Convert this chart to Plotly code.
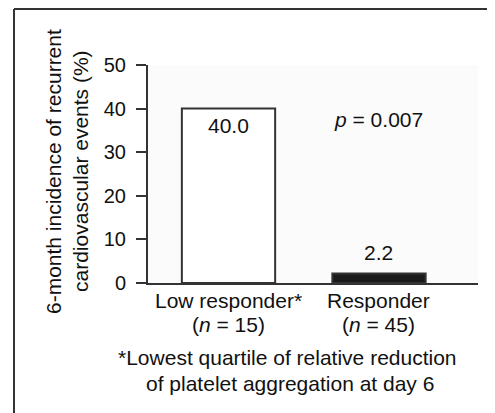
import plotly.graph_objects as go

categories = ["Low responder*", "Responder"]
n_labels = ["(<i>n</i> = 15)", "(<i>n</i> = 45)"]
values = [40.0, 2.2]
value_labels = ["40.0", "2.2"]
y_ticks = [0, 10, 20, 30, 40, 50]
p_text = "<i>p</i> = 0.007"
y_title = ["6-month incidence of recurrent", "cardiovascular events (%)"]
footnote = ["*Lowest quartile of relative reduction", "of platelet aggregation at day 6"]

FONT = "Liberation Sans, Arial, Helvetica, sans-serif"
DARK = "#333333"
TXT = "#111111"
FS = 21
xs = list(range(len(categories)))

# page body has an 8px margin; plot area in screen px: x 148..478, y 65..283
PX0, PW, PY0, PH = 148, 330, 283, 218


def px(x):
    return (x - PX0) / PW


def py(y):
    return (PY0 - y) / PH


fig = go.Figure()
fig.add_trace(go.Bar(
    x=xs, y=values, width=0.62,
    marker=dict(color=["#ffffff", "#1a1a1a"], line=dict(color=DARK, width=2)),
    hoverinfo="skip",
))

ann = []
ann.append(dict(x=0, y=36.2, xref="x", yref="y", text=value_labels[0], showarrow=False,
                font=dict(size=FS, color=TXT)))
ann.append(dict(x=1, y=6.9, xref="x", yref="y", text=value_labels[1], showarrow=False,
                font=dict(size=FS, color=TXT)))
ann.append(dict(x=1, y=37.4, xref="x", yref="y", text=p_text, showarrow=False,
                font=dict(size=FS, color=TXT)))
for i in xs:
    ann.append(dict(x=i, y=py(300), xref="x", yref="paper", text=categories[i], showarrow=False,
                    yanchor="middle", font=dict(size=FS, color=TXT)))
    ann.append(dict(x=i, y=py(324), xref="x", yref="paper", text=n_labels[i], showarrow=False,
                    yanchor="middle", font=dict(size=FS, color=TXT)))
ann.append(dict(x=px(287), y=py(357), xref="paper", yref="paper", text=footnote[0],
                showarrow=False, yanchor="middle", font=dict(size=FS, color=TXT)))
ann.append(dict(x=px(290), y=py(383), xref="paper", yref="paper", text=footnote[1],
                showarrow=False, yanchor="middle", font=dict(size=FS, color=TXT)))
ann.append(dict(x=px(53), y=py(171), xref="paper", yref="paper", text=y_title[0],
                showarrow=False, textangle=-90, xanchor="center", yanchor="middle",
                font=dict(size=FS, color=TXT)))
ann.append(dict(x=px(80), y=py(171), xref="paper", yref="paper", text=y_title[1],
                showarrow=False, textangle=-90, xanchor="center", yanchor="middle",
                font=dict(size=FS, color=TXT)))

fx = px(14)
fy = py(9)
shapes = [
    dict(type="line", xref="paper", yref="paper", x0=fx, x1=1.3, y0=fy, y1=fy,
         line=dict(color=DARK, width=2)),
    dict(type="line", xref="paper", yref="paper", x0=fx, x1=fx, y0=fy, y1=-0.8,
         line=dict(color=DARK, width=2)),
]

fig.update_layout(
    width=495, height=413,
    margin=dict(l=140, r=25, t=57, b=138),
    paper_bgcolor="white", plot_bgcolor="#fbfbfb",
    font=dict(family=FONT, size=FS, color=TXT),
    showlegend=False,
    annotations=ann, shapes=shapes,
    xaxis=dict(range=[-0.535, 1.658], showticklabels=False, ticks="", showgrid=False,
               zeroline=False, showline=True, linecolor=DARK, linewidth=2, fixedrange=True),
    yaxis=dict(range=[0, 50], tickvals=y_ticks, ticks="outside", ticklen=10, tickwidth=2,
               tickcolor=DARK, showgrid=False, zeroline=False, showline=True,
               linecolor=DARK, linewidth=2, tickfont=dict(size=20, color=TXT),
               ticklabelstandoff=6, fixedrange=True),
)

fig.write_html("out.html")
